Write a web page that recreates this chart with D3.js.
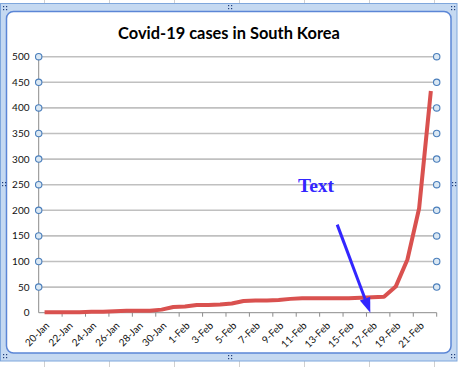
<!DOCTYPE html>
<html><head><meta charset="utf-8">
<script src="https://cdn.jsdelivr.net/npm/d3@7"></script>
<style>html,body{margin:0;padding:0;background:#fff;}svg{display:block;}</style>
</head><body>
<svg id="c" width="460" height="367"></svg>
<script>
const title = "Covid-19 cases in South Korea";
const annotation = "Text";
const categories = [
 "20-Jan","21-Jan","22-Jan","23-Jan","24-Jan","25-Jan","26-Jan","27-Jan","28-Jan","29-Jan","30-Jan","31-Jan",
 "1-Feb","2-Feb","3-Feb","4-Feb","5-Feb","6-Feb","7-Feb","8-Feb","9-Feb","10-Feb","11-Feb","12-Feb","13-Feb",
 "14-Feb","15-Feb","16-Feb","17-Feb","18-Feb","19-Feb","20-Feb","21-Feb","22-Feb"];
const cases = [1,1,1,1,2,2,3,4,4,4,6,11,12,15,15,16,18,23,24,24,25,27,28,28,28,28,28,29,30,31,51,104,204,433];
const yTicks = [0,50,100,150,200,250,300,350,400,450,500];
const xLabels = categories.filter((d,i)=>i%2===0);
const arrowFrom = ["14-Feb", 172];   // category, value
const arrowTo = ["17-Feb", 0];

const svg = d3.select("#c");
// spreadsheet background lines
const bg = svg.append("g");
for (let x = 44; x < 460; x += 65) {
  bg.append("line").attr("x1",x+0.5).attr("x2",x+0.5).attr("y1",0).attr("y2",367).attr("stroke","#d0d0d0");
}
// chart frame (selected Excel chart)
svg.append("rect").attr("x",0.5).attr("y",3.5).attr("width",456.5).attr("height",357.5)
  .attr("fill","#c5d9f1").attr("stroke","#7fa7dc").attr("stroke-width",1);
svg.append("rect").attr("x",6.5).attr("y",11.5).attr("width",444.5).attr("height",341.5).attr("rx",7)
  .attr("fill","#fff").attr("stroke","#5b86d6").attr("stroke-width",1.5);
// handles
const hd = svg.append("g").attr("fill","#1f3d7a");
function handle(cx, cy, pattern){
  pattern.forEach(([dx,dy])=>hd.append("rect").attr("x",cx+dx).attr("y",cy+dy).attr("width",1.2).attr("height",1.2));
}
const sq = [[0,0],[3,0],[0,3],[3,3]];
handle(3,6,sq); handle(451,6,sq); handle(3,354,sq); handle(451,354,sq);
handle(228,5,sq); handle(228,355,sq); handle(2,182,sq); handle(452,182,sq);

const x = d3.scaleBand().domain(categories).range([38.7, 436.7]);
const y = d3.scaleLinear().domain([0,500]).range([312.7, 56.7]);

// gridlines
const grid = svg.append("g");
yTicks.forEach(t=>{
  grid.append("line").attr("x1",38.7).attr("x2",436.7).attr("y1",y(t)).attr("y2",y(t))
    .attr("stroke", t===0 ? "#8c8c8c" : "#c0c0c0").attr("stroke-width", t===0 ? 1 : 1.6);
});
// y axis line
svg.append("line").attr("x1",38.7).attr("x2",38.7).attr("y1",y(500)).attr("y2",y(0)).attr("stroke","#8c8c8c").attr("stroke-width",1);

const tickFont = "Lato, Liberation Sans, sans-serif";
// y labels
svg.append("g").selectAll("text").data(yTicks).join("text")
  .attr("x",29.5).attr("y",d=>y(d)).attr("dy","0.35em").attr("text-anchor","end")
  .attr("font-family",tickFont).attr("font-size",10).attr("fill","#111")
  .text(d=>d);

// x ticks (every 2 categories, at boundaries)
const step = x.step();
svg.append("g").selectAll("line").data(xLabels).join("line")
  .attr("x1",d=>x(d)+2*step).attr("x2",d=>x(d)+2*step).attr("y1",y(0)).attr("y2",y(0)+4)
  .attr("stroke","#8c8c8c");
// x labels
svg.append("g").selectAll("text").data(xLabels).join("text")
  .attr("transform",d=>`translate(${x(d)+x.bandwidth()/2+3},${y(0)+11}) rotate(-45)`)
  .attr("text-anchor","end").attr("dy","0.35em")
  .attr("font-family",tickFont).attr("font-size",10).attr("fill","#111")
  .text(d=>d);

// line
const line = d3.line().x((d,i)=>x(categories[i])+x.bandwidth()/2).y(d=>y(d));
svg.append("path").datum(cases).attr("d",line).attr("fill","none")
  .attr("stroke","#d9514f").attr("stroke-width",4).attr("stroke-linejoin","round").attr("stroke-linecap","butt");

// gridline selection markers
const mk = svg.append("g");
yTicks.filter(t=>t>0).forEach(t=>{
  [38.7,436.7].forEach(px=>{
    mk.append("circle").attr("cx",px).attr("cy",y(t)).attr("r",3.2)
      .attr("fill","#dbe8f3").attr("stroke","#4a7ebb").attr("stroke-width",1.1);
  });
});

// title
const tt = svg.append("text").attr("x",229).attr("y",39).attr("text-anchor","middle")
  .attr("font-family","Lato, Open Sans, sans-serif").attr("font-weight","bold").attr("font-size",16)
  .attr("fill","#000").text(title);
const tw = tt.node().getComputedTextLength();
tt.attr("font-size", 16*222/tw);

// annotation text
svg.append("text").attr("x",298).attr("y",191.5)
  .attr("font-family","Liberation Serif, Times New Roman, serif").attr("font-weight","bold").attr("font-size",19.5)
  .attr("fill","#3326ff").text(annotation);

// arrow
const ax1 = x(arrowFrom[0])+x.bandwidth()/2, ay1 = y(arrowFrom[1]) ;
const ax2 = x(arrowTo[0])+x.bandwidth()/2 - 2, ay2 = y(arrowTo[1]);
const ang = Math.atan2(ay2-ay1, ax2-ax1);
const hl = 15, hw = 5.5;
const bx = ax2 - hl*Math.cos(ang), by = ay2 - hl*Math.sin(ang);
svg.append("line").attr("x1",ax1).attr("y1",ay1).attr("x2",bx).attr("y2",by)
  .attr("stroke","#3326ff").attr("stroke-width",3);
svg.append("path").attr("fill","#3326ff")
  .attr("d",`M${ax2},${ay2}L${bx+hw*Math.sin(ang)},${by-hw*Math.cos(ang)}L${bx-hw*Math.sin(ang)},${by+hw*Math.cos(ang)}Z`);
</script>
</body></html>
